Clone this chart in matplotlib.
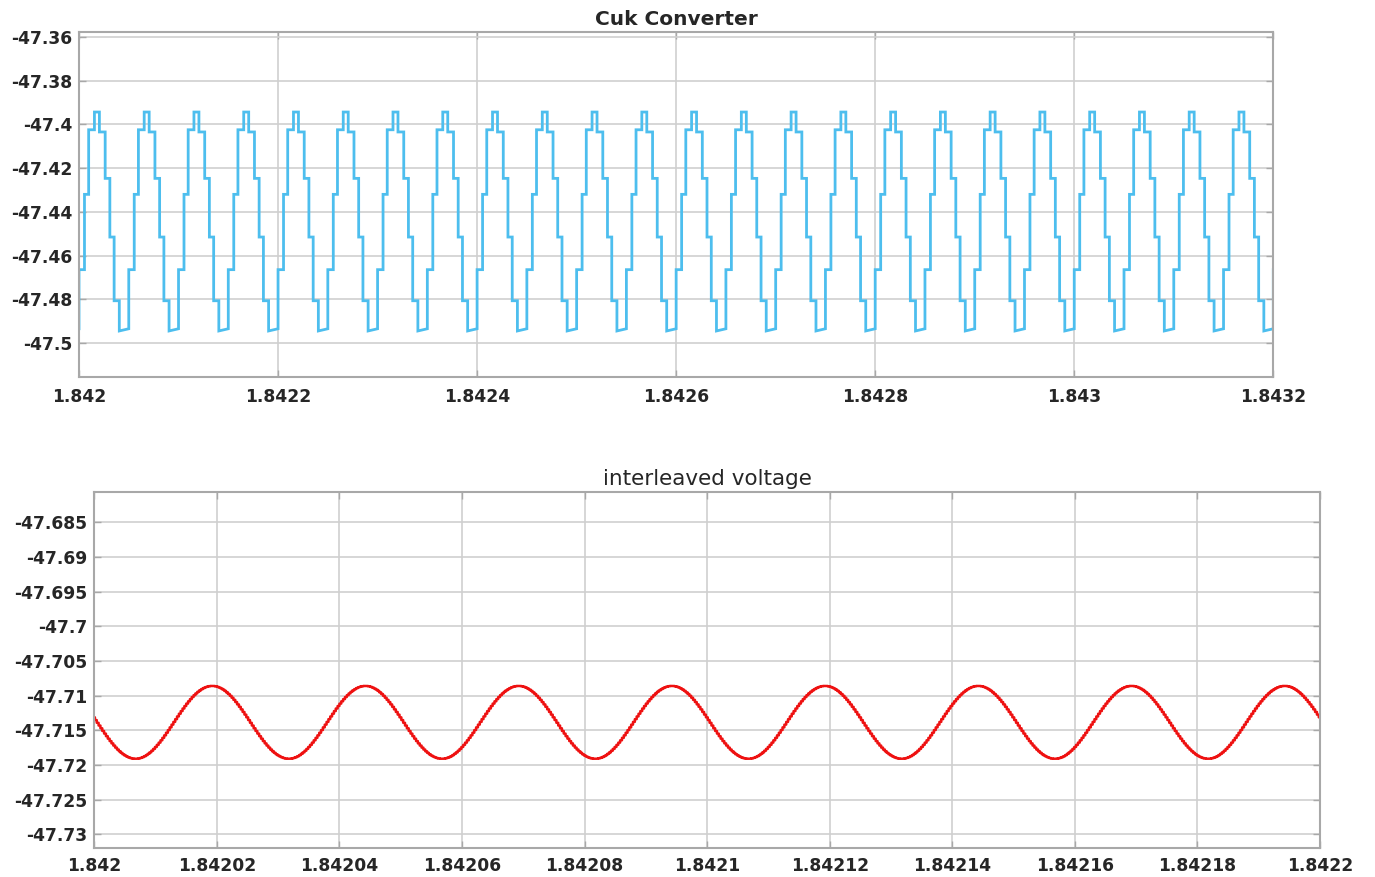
import numpy as np
import matplotlib
matplotlib.use("Agg")
import matplotlib.pyplot as plt

# ---------------- Cuk converter output (one switching cycle, repeated) ----------------
t0 = 1.842
cuk_period_us = 50.0
cuk_cycles = 24
# step instants within one cycle (microseconds) and the level after each step (V)
cuk_step_t_us = [0.0, 5.5, 9.7, 15.5, 20.5, 26.3, 31.0, 35.3, 40.5]
cuk_step_v = [-47.4664, -47.4320, -47.4025, -47.3944, -47.4035,
              -47.4247, -47.4515, -47.4806, -47.4944]
cuk_ramp_end_v = -47.4934   # level reached just before the next rising step

cuk_xticks = [1.842, 1.8422, 1.8424, 1.8426, 1.8428, 1.843, 1.8432]
cuk_xlabels = ["1.842", "1.8422", "1.8424", "1.8426", "1.8428", "1.843", "1.8432"]
cuk_yticks = [-47.36, -47.38, -47.4, -47.42, -47.44, -47.46, -47.48, -47.5]
cuk_ylabels = ["-47.36", "-47.38", "-47.4", "-47.42", "-47.44", "-47.46", "-47.48", "-47.5"]

# ---------------- interleaved output (ripple extremes) ----------------
il_ext_t_us = [-5.9, 6.6, 19.1, 31.6, 44.1, 56.6, 69.1, 81.6, 94.1, 106.6,
               119.1, 131.6, 144.1, 156.6, 169.1, 181.6, 194.1, 206.6]
il_ext_v = [-47.7086, -47.7191, -47.7086, -47.7191, -47.7086, -47.7191,
            -47.7086, -47.7191, -47.7086, -47.7191, -47.7086, -47.7191,
            -47.7086, -47.7191, -47.7086, -47.7191, -47.7086, -47.7191]

il_xticks = [1.842, 1.84202, 1.84204, 1.84206, 1.84208, 1.8421,
             1.84212, 1.84214, 1.84216, 1.84218, 1.8422]
il_xlabels = ["1.842", "1.84202", "1.84204", "1.84206", "1.84208", "1.8421",
              "1.84212", "1.84214", "1.84216", "1.84218", "1.8422"]
il_yticks = [-47.685, -47.69, -47.695, -47.7, -47.705, -47.71,
             -47.715, -47.72, -47.725, -47.73]
il_ylabels = ["-47.685", "-47.69", "-47.695", "-47.7", "-47.705", "-47.71",
              "-47.715", "-47.72", "-47.725", "-47.73"]

# ---------------- build the traces ----------------
cx, cy = [0.0], [cuk_ramp_end_v]
prev = cuk_ramp_end_v
for k in range(cuk_cycles + 1):
    base = k * cuk_period_us
    for ts, lv in zip(cuk_step_t_us, cuk_step_v):
        cx += [base + ts, base + ts]
        cy += [prev, lv]
        prev = lv
    cx.append(base + cuk_period_us)
    cy.append(cuk_ramp_end_v)
    prev = cuk_ramp_end_v
cuk_t = t0 + np.array(cx) * 1e-6
cuk_v = np.array(cy)

# half-cosine transitions between successive extremes, held at a fixed sample step
hold_us = 0.3
seg_t, seg_v = [], []
for i in range(len(il_ext_t_us) - 1):
    ta, tb = il_ext_t_us[i], il_ext_t_us[i + 1]
    va, vb = il_ext_v[i], il_ext_v[i + 1]
    tt = np.arange(ta, tb, hold_us)
    w = 0.5 - 0.5 * np.cos(np.pi * (tt - ta) / (tb - ta))
    seg_t.append(tt)
    seg_v.append(va + (vb - va) * w)
il_t = t0 + np.concatenate(seg_t) * 1e-6
il_v = np.concatenate(seg_v)

# ---------------- figure ----------------
plt.rcParams["font.family"] = ["DejaVu Sans"]
fig = plt.figure(figsize=(13.75, 8.77), dpi=100)
W, H = 1375.0, 877.0

def axes_px(left, top, right, bottom):
    return fig.add_axes([left / W, 1 - bottom / H, (right - left) / W, (bottom - top) / H])

ax1 = axes_px(79, 31.7, 1273.3, 376.7)
ax2 = axes_px(94.3, 492.3, 1320, 848.3)

def style(ax):
    for s in ax.spines.values():
        s.set_color("#a8a8a8")
        s.set_linewidth(1.5)
    ax.grid(True, color="#cfcfcf", linewidth=1.2)
    ax.set_axisbelow(True)
    ax.tick_params(direction="in", length=5, width=1, color="#a8a8a8",
                   top=True, right=True, labelsize=12.3, labelcolor="#262626")
    for lab in ax.get_xticklabels() + ax.get_yticklabels():
        lab.set_fontweight("bold")

ax1.plot(cuk_t, cuk_v, color="#4DBEEE", linewidth=2.0, solid_joinstyle="miter")
ax1.set_xlim(1.842, 1.8432)
ax1.set_ylim(-47.5153, -47.3577)
ax1.set_xticks(cuk_xticks)
ax1.set_xticklabels(cuk_xlabels)
ax1.set_yticks(cuk_yticks)
ax1.set_yticklabels(cuk_ylabels)
style(ax1)
ax1.tick_params(axis="x", pad=8)
ax1.tick_params(axis="y", pad=5)
ax1.set_title("Cuk Converter", fontsize=14.5, fontweight="bold", pad=5, color="#262626")

ax2.plot(il_t, il_v, color="#ee1111", linewidth=1.8, drawstyle="steps-post")
ax2.set_xlim(1.842, 1.8422)
ax2.set_ylim(-47.732, -47.6807)
ax2.set_xticks(il_xticks)
ax2.set_xticklabels(il_xlabels)
ax2.set_yticks(il_yticks)
ax2.set_yticklabels(il_ylabels)
style(ax2)
ax2.tick_params(axis="x", pad=6)
ax2.tick_params(axis="y", pad=5)
ax2.set_title("interleaved voltage", fontsize=15.5, pad=5, color="#262626")

fig.savefig("out.png", dpi=100, facecolor="white")
